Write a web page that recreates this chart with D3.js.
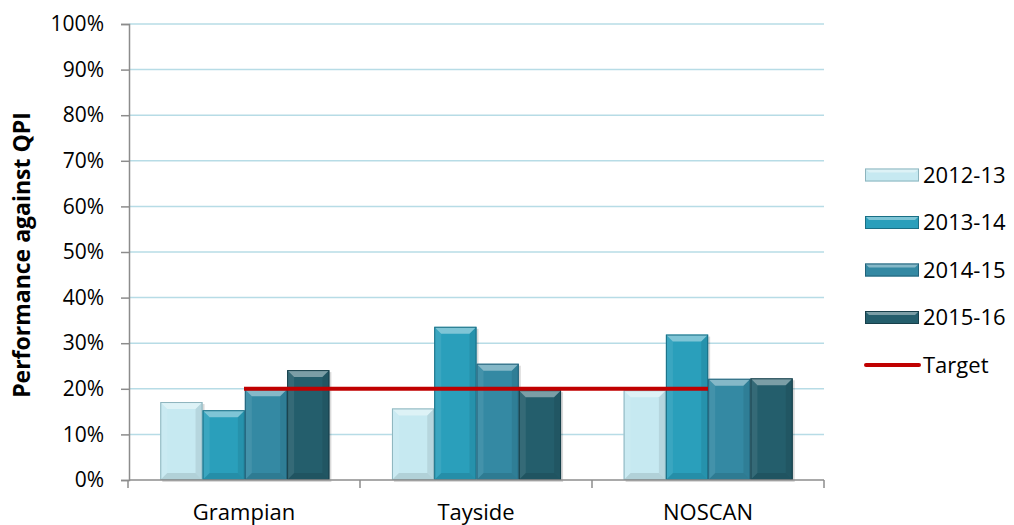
<!DOCTYPE html>
<html>
<head>
<meta charset="utf-8">
<script src="https://cdn.jsdelivr.net/npm/d3@7"></script>
<style>
  body { margin: 0; background: #fff; }
  svg text { font-family: "Open Sans", Lato, sans-serif; fill: #000; }
</style>
</head>
<body>
<div id="chart"></div>
<script>
const categories = ["Grampian", "Tayside", "NOSCAN"];
const seriesNames = ["2012-13", "2013-14", "2014-15", "2015-16"];
const values2012 = [0.171, 0.157, 0.197];
const values2013 = [0.153, 0.336, 0.319];
const values2014 = [0.199, 0.255, 0.222];
const values2015 = [0.241, 0.197, 0.223];
const targetValue = 0.20;
const yTicks = [0, 0.1, 0.2, 0.3, 0.4, 0.5, 0.6, 0.7, 0.8, 0.9, 1.0];

const seriesValues = [values2012, values2013, values2014, values2015];
const colors = ["#c6e9f1", "#2a9fbb", "#3489a3", "#245e6c"];
const edges = ["#8db4bd", "#1a6f85", "#22627a", "#173f4a"];

const width = 1014, height = 525;
const margin = { top: 24, right: 190, bottom: 45, left: 129 };

const svg = d3.select("#chart").append("svg")
    .attr("width", width)
    .attr("height", height);

const x = d3.scaleBand()
    .domain(categories)
    .range([margin.left, width - margin.right])
    .paddingInner(0.27)
    .paddingOuter(0.135);

const xCat = d3.scaleBand()
    .domain(categories)
    .range([margin.left - 1, width - margin.right]);

const xSub = d3.scaleBand()
    .domain(seriesNames)
    .range([0, x.bandwidth()]);

const y = d3.scaleLinear()
    .domain([0, 1])
    .range([height - margin.bottom, margin.top]);

// gridlines
svg.append("g")
    .selectAll("line")
    .data(yTicks.slice(1))
    .join("line")
    .attr("x1", margin.left)
    .attr("x2", width - margin.right)
    .attr("y1", d => y(d))
    .attr("y2", d => y(d))
    .attr("stroke", "#b7dce6")
    .attr("stroke-width", 1.5);

// y axis
const yAxis = svg.append("g")
    .attr("transform", `translate(${margin.left},0)`)
    .call(d3.axisLeft(y).tickValues(yTicks).tickFormat(d3.format(".0%")).tickSize(8).tickPadding(17));
yAxis.attr("font-family", null);
yAxis.select(".domain").attr("stroke", "#8c8c8c").attr("stroke-width", 1.5);
yAxis.selectAll(".tick line").attr("stroke", "#8c8c8c").attr("stroke-width", 1.5);
yAxis.selectAll(".tick text").style("font-size", "21px");

svg.append("text")
    .attr("transform", `translate(30,${(y(0) + y(1)) / 2 + 3}) rotate(-90)`)
    .attr("text-anchor", "middle")
    .style("font-size", "23px")
    .style("font-weight", "bold")
    .text("Performance against QPI");

// bars
const bevel = 7;
const barGroups = svg.append("g")
    .selectAll("g")
    .data(categories.map((c, i) => ({ cat: c, vals: seriesValues.map((s, k) => ({ k, v: s[i] })) })))
    .join("g")
    .attr("transform", d => `translate(${x(d.cat)},0)`);

const bars = barGroups.selectAll("g")
    .data(d => d.vals)
    .join("g");

bars.each(function (d) {
    const g = d3.select(this);
    const x0 = xSub(seriesNames[d.k]);
    const w = xSub.bandwidth();
    const y0 = y(d.v), y1 = y(0);
    const b = Math.min(bevel, (y1 - y0) / 2);
    g.append("rect")
        .attr("x", x0 + 2).attr("y", y0 + 2)
        .attr("width", w).attr("height", y1 - y0)
        .attr("fill", "#000").attr("opacity", 0.15);
    g.append("rect")
        .attr("x", x0).attr("y", y0)
        .attr("width", w).attr("height", y1 - y0)
        .attr("fill", colors[d.k]);
    // top bevel
    g.append("path")
        .attr("d", `M${x0},${y0}L${x0 + w},${y0}L${x0 + w - b},${y0 + b}L${x0 + b},${y0 + b}Z`)
        .attr("fill", "#fff").attr("opacity", 0.4);
    // bottom bevel
    g.append("path")
        .attr("d", `M${x0},${y1}L${x0 + w},${y1}L${x0 + w - b},${y1 - b}L${x0 + b},${y1 - b}Z`)
        .attr("fill", "#000").attr("opacity", 0.1);
    // side bevels
    g.append("path")
        .attr("d", `M${x0},${y0}L${x0 + b},${y0 + b}L${x0 + b},${y1 - b}L${x0},${y1}Z`)
        .attr("fill", "#fff").attr("opacity", 0.08);
    g.append("path")
        .attr("d", `M${x0 + w},${y0}L${x0 + w - b},${y0 + b}L${x0 + w - b},${y1 - b}L${x0 + w},${y1}Z`)
        .attr("fill", "#000").attr("opacity", 0.08);
    g.append("rect")
        .attr("x", x0 + 0.5).attr("y", y0 + 0.5)
        .attr("width", w - 1).attr("height", y1 - y0 - 1)
        .attr("fill", "none").attr("stroke", edges[d.k]).attr("stroke-width", 1);
});

// x axis
const xAxis = svg.append("g")
    .attr("transform", `translate(0,${y(0)})`);
xAxis.append("line")
    .attr("x1", margin.left).attr("x2", width - margin.right)
    .attr("stroke", "#8c8c8c").attr("stroke-width", 1.5);
xAxis.selectAll(".tk")
    .data(categories.map(c => xCat(c)).concat([xCat.range()[1]]))
    .join("line")
    .attr("class", "tk")
    .attr("x1", d => d).attr("x2", d => d)
    .attr("y1", 0).attr("y2", 8)
    .attr("stroke", "#8c8c8c").attr("stroke-width", 1.5);
xAxis.selectAll("text")
    .data(categories)
    .join("text")
    .attr("x", d => xCat(d) + xCat.bandwidth() / 2)
    .attr("y", 40)
    .attr("text-anchor", "middle")
    .style("font-size", "22px")
    .text(d => d);

// target line
const lineX = d3.scalePoint()
    .domain(categories)
    .range([xCat(categories[0]) + xCat.bandwidth() / 2, xCat(categories[2]) + xCat.bandwidth() / 2]);
svg.append("path")
    .datum(categories)
    .attr("d", d3.line().x(d => lineX(d)).y(() => y(targetValue)))
    .attr("stroke", "#c00000")
    .attr("stroke-width", 4)
    .attr("fill", "none");

// legend
const legend = svg.append("g").attr("transform", "translate(865,0)");
const legendY = d3.scalePoint()
    .domain(seriesNames.concat(["Target"]))
    .range([175, 365]);
seriesNames.forEach((s, k) => {
    const ly = legendY(s);
    const lw = 54, lh = 13, b = 4;
    legend.append("rect").attr("x", 0).attr("y", ly - lh / 2).attr("width", lw).attr("height", lh)
        .attr("fill", colors[k]);
    legend.append("path")
        .attr("d", `M0,${ly - lh / 2}L${lw},${ly - lh / 2}L${lw - b},${ly - lh / 2 + b}L${b},${ly - lh / 2 + b}Z`)
        .attr("fill", "#fff").attr("opacity", 0.4);
    legend.append("rect").attr("x", 0.5).attr("y", ly - lh / 2 + 0.5).attr("width", lw - 1).attr("height", lh - 1)
        .attr("fill", "none").attr("stroke", edges[k]);
    legend.append("text").attr("x", 58).attr("y", ly).attr("dy", "0.36em")
        .style("font-size", "22px").text(s);
});
legend.append("line")
    .attr("x1", 1).attr("x2", 54)
    .attr("y1", legendY("Target")).attr("y2", legendY("Target"))
    .attr("stroke", "#c00000").attr("stroke-width", 4).attr("stroke-linecap", "round");
legend.append("text").attr("x", 58).attr("y", legendY("Target")).attr("dy", "0.36em")
    .style("font-size", "22px").text("Target");
</script>
</body>
</html>
